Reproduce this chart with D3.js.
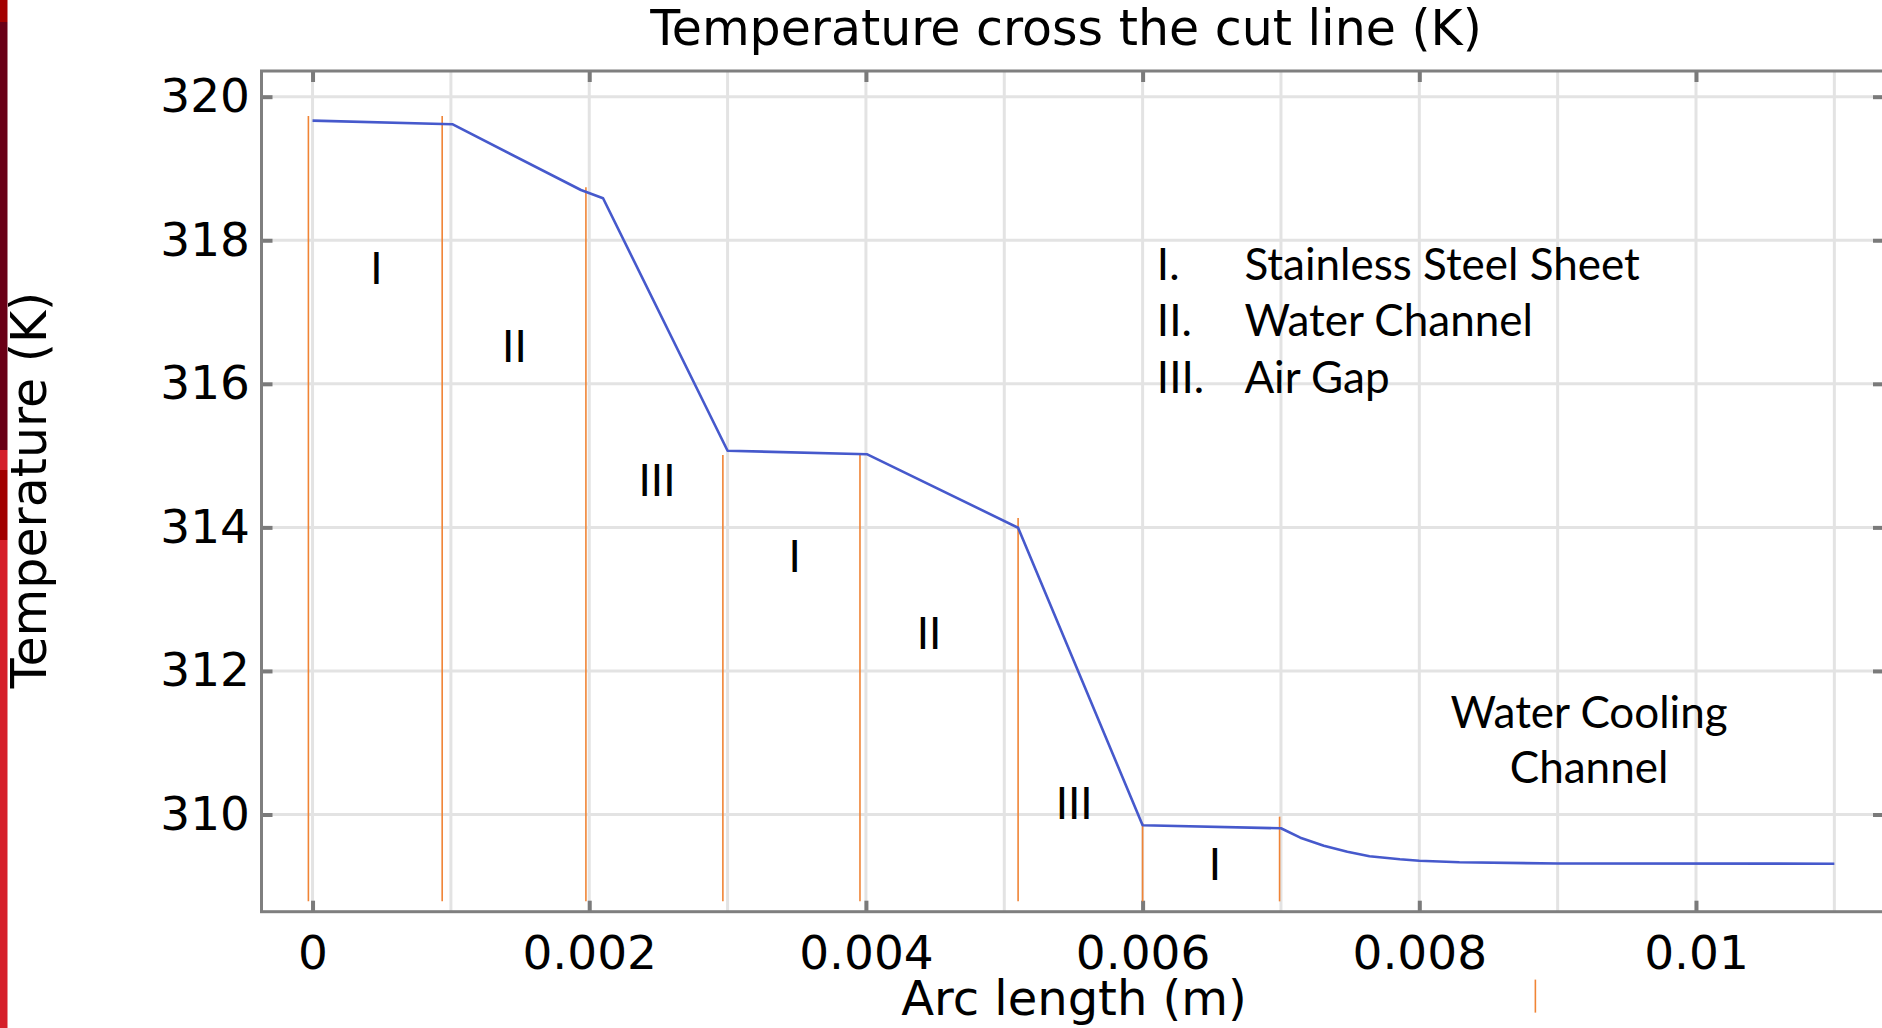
<!DOCTYPE html>
<html>
<head>
<meta charset="utf-8">
<script src="https://cdn.jsdelivr.net/npm/d3@7"></script>
<style>
  html, body { margin: 0; padding: 0; background: #ffffff; overflow: hidden; }
  svg { display: block; }
</style>
</head>
<body>
<svg id="chart" width="1882" height="1028"></svg>
<script>
// ---------- data ----------
const arcLength = [0, 0.00101, 0.00194, 0.00210, 0.00300, 0.00401, 0.00510, 0.00600, 0.00700,
                   0.00714, 0.00731, 0.00748, 0.00764, 0.00786, 0.00800, 0.00829, 0.00900, 0.01100];
const temperature = [319.666, 319.617, 318.70, 318.585, 315.068, 315.018, 313.995, 309.85, 309.808,
                     309.677, 309.565, 309.482, 309.418, 309.376, 309.356, 309.334, 309.317, 309.315];

// orange boundary markers: position and top temperature
const boundaryX   = [-0.00003, 0.000937, 0.001976, 0.002966, 0.003957, 0.005100, 0.006000, 0.006990];
const boundaryTop = [319.73, 319.73, 318.74, 315.01, 315.01, 314.13, 309.88, 309.97];
const boundaryBottom = 308.79;
const strayMarkX = [0.008839];
const strayMarkRange = [307.70, 307.24];

const xTickValues = [0, 0.002, 0.004, 0.006, 0.008, 0.01];
const xTickLabels = ["0", "0.002", "0.004", "0.006", "0.008", "0.01"];
const xGridValues = [0, 0.001, 0.002, 0.003, 0.004, 0.005, 0.006, 0.007, 0.008, 0.009, 0.010, 0.011];
const yTickValues = [310, 312, 314, 316, 318, 320];
const yTickLabels = ["310", "312", "314", "316", "318", "320"];

const regionLabels = ["I", "II", "III", "I", "II", "III", "I"];
const regionLabelX = [0.000461, 0.001459, 0.002490, 0.003485, 0.004456, 0.005505, 0.006522];
const regionLabelT = [317.391, 316.308, 314.437, 313.383, 312.301, 309.937, 309.088];

const legendNumerals = ["I.", "II.", "III."];
const legendNames = ["Stainless Steel Sheet", "Water Channel", "Air Gap"];
const legendT = [317.446, 316.666, 315.876];
const noteLines = ["Water Cooling", "Channel"];
const noteT = [311.20, 310.435];

const chartTitle = "Temperature cross the cut line (K)";
const xTitle = "Arc length (m)";
const yTitle = "Temperature (K)";

// ---------- layout ----------
const L = 261.5, R = 1884, T = 71, B = 911.7;
const axisFont = "'DejaVu Sans', sans-serif";
const noteFont = "Lato, 'Open Sans', sans-serif";
const noteSize = "44px";

const svg = d3.select("#chart");

// left decorative red strip (slide background)
const stripBands = [[0, 22, "#a30000"], [22, 450, "#6a0017"], [450, 470, "#d41f2b"],
                    [470, 540, "#a10000"], [540, 1028, "#d61f2a"]];
svg.selectAll("rect.strip").data(stripBands).enter().append("rect")
  .attr("x", 0).attr("y", d => d[0]).attr("width", 7.5).attr("height", d => d[1] - d[0])
  .attr("fill", d => d[2]);

const x = d3.scaleLinear().domain([-0.000369, 0.011359]).range([L, R]);
const y = d3.scaleLinear().domain([308.646, 320.358]).range([B, T]);

// ---------- grid ----------
const grid = svg.append("g");
grid.selectAll("line.vg").data(xGridValues).enter().append("line")
  .attr("x1", d => x(d)).attr("x2", d => x(d)).attr("y1", T).attr("y2", B)
  .attr("stroke", "#e3e3e3").attr("stroke-width", 3);
grid.selectAll("line.hg").data(yTickValues).enter().append("line")
  .attr("x1", L).attr("x2", R).attr("y1", d => y(d)).attr("y2", d => y(d))
  .attr("stroke", "#e3e3e3").attr("stroke-width", 3);

// ---------- axes ----------
function styleAxis(g) {
  g.select(".domain").remove();
  g.selectAll(".tick line").attr("stroke", "#7a7a7a").attr("stroke-width", 4);
  g.selectAll(".tick text").attr("fill", "#000").style("font-family", axisFont).style("font-size", "47px");
}
svg.append("g").attr("transform", `translate(0,${B})`)
  .call(d3.axisBottom(x).tickValues(xTickValues).tickSize(-11).tickPadding(24)
        .tickFormat((d, i) => xTickLabels[i]))
  .call(styleAxis);
svg.append("g").attr("transform", `translate(0,${T})`)
  .call(d3.axisTop(x).tickValues(xTickValues).tickSize(-11).tickFormat(""))
  .call(styleAxis);
svg.append("g").attr("transform", `translate(${L},0)`)
  .call(d3.axisLeft(y).tickValues(yTickValues).tickSize(-11).tickPadding(11.5)
        .tickFormat((d, i) => yTickLabels[i]))
  .call(styleAxis);
svg.append("g").attr("transform", `translate(${R},0)`)
  .call(d3.axisRight(y).tickValues(yTickValues).tickSize(-11).tickFormat(""))
  .call(styleAxis);

// frame
svg.append("rect").attr("x", L).attr("y", T).attr("width", R - L).attr("height", B - T)
  .attr("fill", "none").attr("stroke", "#7f7f7f").attr("stroke-width", 3);

// ---------- orange boundary lines ----------
svg.selectAll("line.bnd").data(boundaryX).enter().append("line")
  .attr("x1", d => x(d)).attr("x2", d => x(d))
  .attr("y1", (d, i) => y(boundaryTop[i])).attr("y2", y(boundaryBottom))
  .attr("stroke", "#f08436").attr("stroke-width", 1.6);
svg.selectAll("line.stray").data(strayMarkX).enter().append("line")
  .attr("x1", d => x(d)).attr("x2", d => x(d))
  .attr("y1", y(strayMarkRange[0])).attr("y2", y(strayMarkRange[1]))
  .attr("stroke", "#f08436").attr("stroke-width", 1.6);

// ---------- temperature line ----------
const pts = arcLength.map((a, i) => [a, temperature[i]]);
svg.append("path").datum(pts)
  .attr("d", d3.line().x(d => x(d[0])).y(d => y(d[1])))
  .attr("fill", "none").attr("stroke", "#4659cc").attr("stroke-width", 2.6)
  .attr("stroke-linejoin", "round");

// ---------- region labels (baseline positions) ----------
svg.selectAll("text.region").data(regionLabels).enter().append("text")
  .attr("x", (d, i) => x(regionLabelX[i])).attr("y", (d, i) => y(regionLabelT[i]))
  .attr("text-anchor", "middle")
  .style("font-family", noteFont).style("font-size", noteSize).attr("fill", "#000")
  .text(d => d);

// legend list
const legendX = 0.006103, legendTextX = 0.006736;
svg.selectAll("text.lnum").data(legendNumerals).enter().append("text")
  .attr("x", x(legendX)).attr("y", (d, i) => y(legendT[i]))
  .style("font-family", noteFont).style("font-size", noteSize).attr("fill", "#000")
  .text(d => d);
svg.selectAll("text.lname").data(legendNames).enter().append("text")
  .attr("x", x(legendTextX)).attr("y", (d, i) => y(legendT[i]))
  .style("font-family", noteFont).style("font-size", noteSize).attr("fill", "#000")
  .text(d => d);

// water cooling note
svg.selectAll("text.note").data(noteLines).enter().append("text")
  .attr("x", x(0.009227)).attr("y", (d, i) => y(noteT[i]))
  .attr("text-anchor", "middle")
  .style("font-family", noteFont).style("font-size", noteSize).attr("fill", "#000")
  .text(d => d);

// ---------- titles ----------
svg.append("text").attr("x", 1066).attr("y", 45).attr("text-anchor", "middle")
  .style("font-family", axisFont).style("font-size", "49px").attr("fill", "#000")
  .text(chartTitle);
svg.append("text").attr("x", 1074).attr("y", 1015).attr("text-anchor", "middle")
  .style("font-family", axisFont).style("font-size", "48px").attr("fill", "#000")
  .text(xTitle);
svg.append("text").attr("transform", "translate(46,490) rotate(-90)").attr("text-anchor", "middle")
  .style("font-family", axisFont).style("font-size", "49px").attr("fill", "#000")
  .text(yTitle);
</script>
</body>
</html>
